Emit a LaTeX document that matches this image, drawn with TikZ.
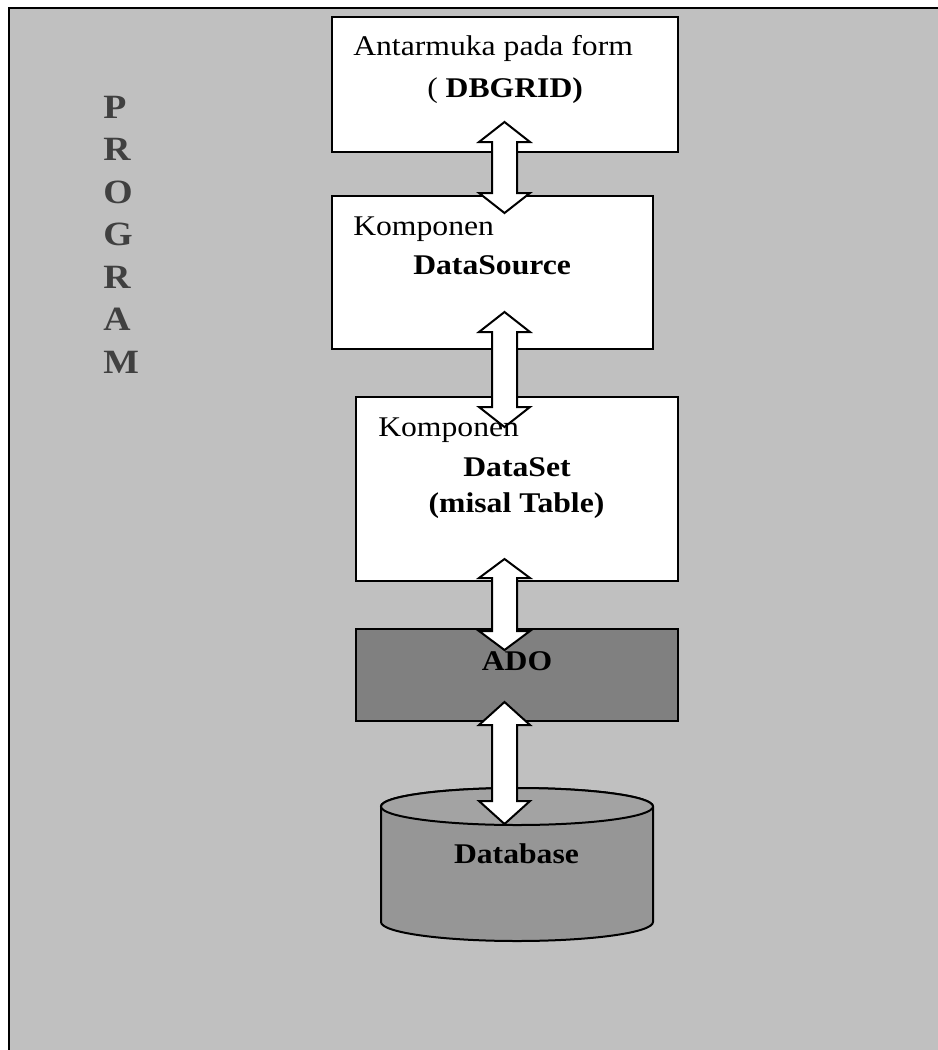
\documentclass[tikz,border=0pt]{standalone}
\usepackage{fontspec}
\setmainfont{Liberation Serif}[FakeStretch=1.11]
\definecolor{bgG}{HTML}{C0C0C0}
\definecolor{adoG}{HTML}{808080}
\definecolor{dbBody}{HTML}{969696}
\definecolor{dbTop}{HTML}{A3A3A3}
\definecolor{progG}{HTML}{404040}
% block double arrow between two named tip coordinates: #1 top tip, #2 bottom tip, #3 head length
\newcommand\blkarrow[3]{%
  \draw[arrowbox]
    (#1) -- ++(25.5,-#3) -- ++(-13,0) -- ($(#2)+(12.5,#3)$) -- ++(13,0)
    -- (#2) -- ++(-25.5,#3) -- ++(13,0) -- ($(#1)+(-12.5,-#3)$) -- ++(-13,0) -- cycle;}
\usetikzlibrary{calc}
\begin{document}
\begin{tikzpicture}[x=0.75pt,y=0.75pt,
  boxst/.style={draw, line width=1.5pt, fill=white, inner sep=0pt},
  arrowbox/.style={draw, line width=1.5pt, fill=white, line join=miter},
  txt/.style={inner sep=0pt, font=\fontsize{21.4}{25}\selectfont},
  progtxt/.style={inner sep=0pt, anchor=base west, text=progG, font=\fontsize{25.5}{30}\selectfont\bfseries}]
\useasboundingbox (0,0) rectangle (938,-1050);
\clip (0,0) rectangle (938,-1050);
% outer frame
\draw[line width=1.8pt, fill=bgG] (9,-8) rectangle (980,-1090);
% boxes
\node[boxst, minimum width={346*0.75pt}, minimum height={135*0.75pt}] (ui) at (505,-84.5) {};
\node[boxst, minimum width={321*0.75pt}, minimum height={153*0.75pt}] (ds) at (492.5,-272.5) {};
\node[boxst, minimum width={322*0.75pt}, minimum height={184*0.75pt}] (dset) at (517,-489) {};
\node[boxst, fill=adoG, minimum width={322*0.75pt}, minimum height={92*0.75pt}] (ado) at (517,-675) {};
% database cylinder
\draw[line width=1.5pt, fill=dbBody] (381,-806.5) -- (381,-922)
  arc[start angle=180, end angle=360, x radius=136, y radius=19] -- (653,-806.5)
  arc[start angle=0, end angle=180, x radius=136, y radius=18.5] -- cycle;
\draw[line width=1.5pt, fill=dbTop] (517,-806.5) ellipse[x radius=136, y radius=18.5];
\coordinate (dbtop) at (517,-806.5);
% arrow tips
\coordinate (a1t) at (504.5,-122); \coordinate (a1b) at (504.5,-213);
\coordinate (a2t) at (504.5,-312); \coordinate (a2b) at (504.5,-427);
\coordinate (a3t) at (504.5,-559); \coordinate (a3b) at (504.5,-650);
\coordinate (a4t) at (504.5,-702); \coordinate (a4b) at (504.5,-824);
\blkarrow{a1t}{a1b}{20}
\blkarrow{a2t}{a2b}{20}
\blkarrow{a3t}{a3b}{19}
\blkarrow{a4t}{a4b}{23}
% texts
\node[txt, anchor=base west] (t1a) at (353,-55) {Antarmuka pada form};
\node[txt, anchor=base west] (t1b) at (427,-97) {( \textbf{DBGRID)}};
\node[txt, anchor=base west] (t2a) at (353,-235) {Komponen};
\node[txt, anchor=base west] (t2b) at (413,-274) {\textbf{DataSource}};
\node[txt, anchor=base west] (t3a) at (378,-436) {Komponen};
\node[txt, anchor=base] (t3b) at (517,-476) {\textbf{DataSet}};
\node[txt, anchor=base] (t3c) at (516.5,-512) {\textbf{(misal Table)}};
\node[txt, anchor=base] (t4) at (517,-670) {\textbf{ADO}};
\node[txt, anchor=base] (t5) at (516.5,-863) {\textbf{Database}};
% PROGRAM
\node[progtxt] (p1) at (103,-118) {P};
\node[progtxt] (p2) at (103,-160.5) {R};
\node[progtxt] (p3) at (103,-203) {O};
\node[progtxt] (p4) at (103,-245.5) {G};
\node[progtxt] (p5) at (103,-288) {R};
\node[progtxt] (p6) at (103,-330.5) {A};
\node[progtxt] (p7) at (103,-373) {M};
\end{tikzpicture}
\end{document}
